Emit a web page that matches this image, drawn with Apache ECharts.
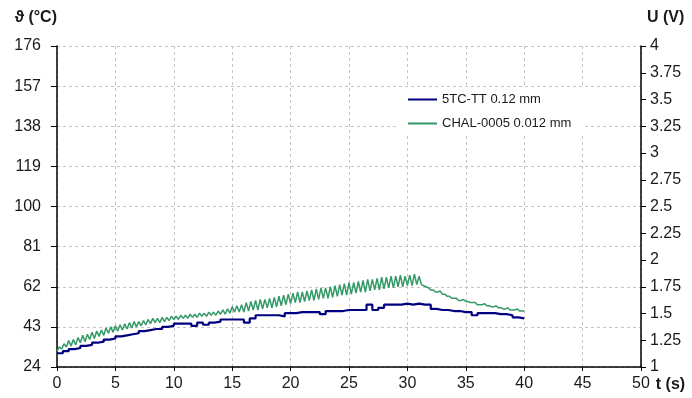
<!DOCTYPE html>
<html>
<head>
<meta charset="utf-8">
<title>Temperature</title>
<script src="https://cdn.jsdelivr.net/npm/echarts@6/dist/echarts.min.js"></script>
<style>
  html, body { margin: 0; padding: 0; background: #fff; }
  #chart { width: 692px; height: 398px; }
</style>
</head>
<body>
<div id="chart"></div>
<script>
// series names
const seriesNames = ['5TC-TT 0.12 mm', 'CHAL-0005 0.012 mm']

// left axis (°C) and right axis (V) ranges
const tempTicks = [24, 43, 62, 81, 100, 119, 138, 157, 176]
const voltRange = [1, 4, 0.25]
const timeRange = [0, 50, 5]

// CHAL-0005, one reading every 0.2 s from t = 0
const greenStep = 0.2
const greenTemp = [
  31.5, 33.5, 32.5, 35, 33.5, 36.5, 34, 37, 34.5, 38,
  35.5, 39, 36, 39.5, 37, 40.5, 37.5, 41, 38.5, 41.5,
  39, 42.5, 40, 43, 40.5, 43.5, 41, 44, 41.5, 44.5,
  42, 45, 42.5, 45.5, 43, 45.5, 43.5, 46, 44, 46.5,
  44.5, 47, 45, 47, 45, 47.5, 45.5, 47.5, 46, 48,
  46.5, 48, 46.5, 48.5, 47, 48.5, 47, 49, 47.5, 49,
  47.5, 49.5, 48, 49.5, 48, 50, 48.5, 50, 48.5, 50.5,
  49, 51, 49, 51.5, 49.5, 52.5, 50, 53, 50, 53.5,
  50, 54.5, 50.5, 55, 51, 55.5, 51, 56, 51.5, 56,
  52, 56.5, 52, 57, 52.5, 57.5, 53, 58, 53.5, 58.5,
  54, 59, 54.5, 59.5, 54.5, 59.5, 55, 60, 55.5, 60.5,
  55.5, 61, 56, 61.5, 56.5, 61.5, 56.5, 62, 57, 62.5,
  57.5, 63, 58, 63.5, 58, 64, 58.5, 64, 59, 64.5,
  59.5, 65, 59.5, 65.5, 60, 65.5, 60.5, 66, 60.5, 66.5,
  61, 66.5, 61.5, 67, 61.5, 67, 62, 67.5, 62, 67,
  62.5, 67.5, 62.5, 68, 63, 67, 63, 62.5, 62, 61.5,
  60.5, 60.5, 59.5, 59.5, 60, 58.5, 58.5, 57.5, 57.5, 56.5,
  56.5, 56.5, 55.5, 55.5, 56, 55, 55, 54.5, 54.5, 54.5,
  53.5, 53.5, 53.5, 54, 53, 53, 52.5, 52.5, 53, 52,
  52, 51.5, 51.5, 52, 51, 51, 51, 51.5, 50.5, 50.5,
  50.5
]

// 5TC-TT, one reading every 0.5 s from t = 0
const blueStep = 0.5
const blueTemp = [
  30.5, 31.5, 32.5, 33, 34, 34.5, 35.5, 36, 37, 37.5,
  38.5, 39, 39.5, 40, 41, 41.5, 42, 42, 43, 43.5,
  44.5, 44.5, 44.5, 43.5, 45, 44, 45, 45.5, 46.5, 46.5,
  46.5, 46.5, 45, 47, 48.5, 48.5, 48.5, 48.5, 48, 49.5,
  49.5, 50, 50, 50, 50, 49, 50.5, 50.5, 50.5, 51,
  51, 51, 51, 53.5, 51, 52, 53.5, 53.5, 53.5, 54,
  53.5, 54, 53.5, 53.5, 51.5, 51, 51, 50.5, 50.5, 50,
  50, 48.5, 49.5, 49.5, 49.5, 49, 49, 48.5, 47.5, 47,
  47
]

function pairs(step, vals) {
  return vals.map((v, i) => [+(i * step).toFixed(2), v])
}

const font = 'Liberation Sans, Arial, sans-serif'
const ink = '#1a1a1a'

const chart = echarts.init(document.getElementById('chart'))
chart.setOption({
  animation: false,
  backgroundColor: '#fff',
  grid: { left: 57, right: 51, top: 46, bottom: 31 },
  legend: {
    orient: 'vertical',
    left: 399, top: 87,
    padding: [6, 12, 6, 8],
    backgroundColor: '#fff',
    itemWidth: 29, itemHeight: 12, itemGap: 11,
    itemStyle: { opacity: 0 },
    textStyle: { fontFamily: font, fontSize: 13, color: ink },
    data: seriesNames
  },
  xAxis: {
    type: 'value',
    min: timeRange[0], max: timeRange[1], interval: timeRange[2],
    name: 't (s)', nameLocation: 'end', nameGap: 10,
    nameTextStyle: { fontFamily: font, fontSize: 16, fontWeight: 'bold', color: ink,
      verticalAlign: 'top', padding: [10, 0, 0, 0] },
    axisLine: { lineStyle: { color: '#000', width: 1.5 } },
    axisTick: { length: 4, lineStyle: { color: '#000' } },
    axisLabel: { fontFamily: font, fontSize: 16, color: ink, margin: 9 },
    splitLine: { lineStyle: { color: '#c4c4c4', type: [3, 3] } }
  },
  yAxis: [
    {
      type: 'value',
      min: tempTicks[0], max: tempTicks[tempTicks.length - 1],
      interval: tempTicks[1] - tempTicks[0],
      name: 'ϑ (°C)', nameLocation: 'end', nameGap: 20,
      nameTextStyle: { fontFamily: font, fontSize: 16, fontWeight: 'bold', color: ink, align: 'right' },
      axisLine: { show: true, lineStyle: { color: '#000', width: 1.5 } },
      axisTick: { show: true, length: 6, lineStyle: { color: '#000' } },
      axisLabel: { fontFamily: font, fontSize: 16, color: ink, margin: 16 },
      splitLine: { lineStyle: { color: '#c4c4c4', type: [3, 3] } }
    },
    {
      type: 'value', position: 'right',
      min: voltRange[0], max: voltRange[1], interval: voltRange[2],
      name: 'U (V)', nameLocation: 'end', nameGap: 20,
      nameTextStyle: { fontFamily: font, fontSize: 16, fontWeight: 'bold', color: ink, align: 'left', padding: [0, 0, 0, 6] },
      axisLine: { show: true, lineStyle: { color: '#000', width: 1.5 } },
      axisTick: { show: true, length: 5, lineStyle: { color: '#000' } },
      axisLabel: { fontFamily: font, fontSize: 16, color: ink, margin: 9 },
      splitLine: { show: false }
    }
  ],
  series: [
    {
      name: seriesNames[0], type: 'line', yAxisIndex: 0,
      symbol: 'none', step: 'end',
      lineStyle: { color: '#000080', width: 2.2 },
      itemStyle: { color: '#000080' },
      data: pairs(blueStep, blueTemp), z: 3
    },
    {
      name: seriesNames[1], type: 'line', yAxisIndex: 0,
      symbol: 'none',
      lineStyle: { color: '#339966', width: 1.5 },
      itemStyle: { color: '#339966' },
      data: pairs(greenStep, greenTemp), z: 2
    }
  ]
})
</script>
</body>
</html>
